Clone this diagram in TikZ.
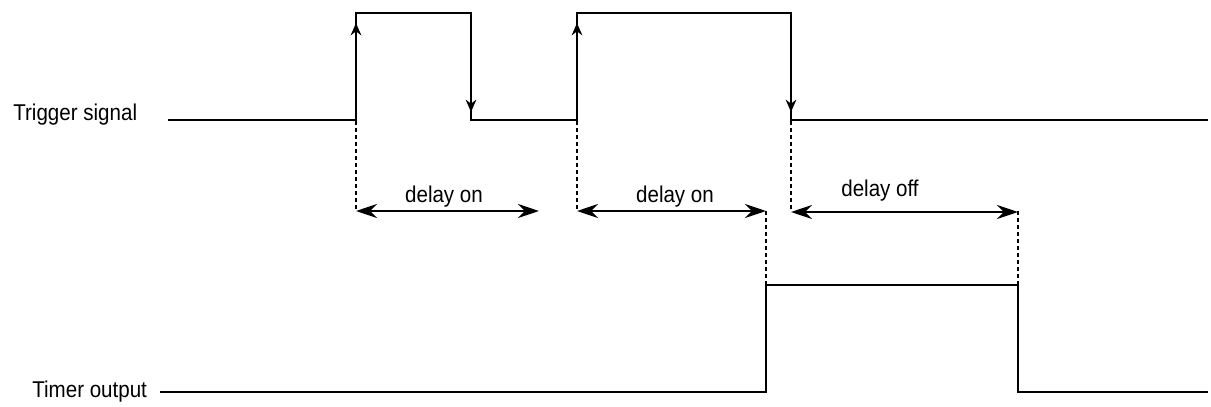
\documentclass[tikz,border=0pt]{standalone}
\usepackage{fontspec}
\usepackage{graphicx}
\setmainfont{Liberation Sans}
\usetikzlibrary{arrows.meta}

\newcommand{\narrowtext}[1]{\scalebox{0.9}[1]{#1}}

\begin{document}
\begin{tikzpicture}[x=0.02cm, y=-0.02cm, >=Stealth]
    \tikzstyle{wave} = [line width=1.2pt, line join=miter]
    \tikzstyle{edge} = [line width=1.2pt, -{Stealth[length=7pt, width=6pt]}]
    \tikzstyle{guide} = [line width=0.6pt, dash pattern=on 2pt off 2pt]
    \tikzstyle{span} = [line width=1.7pt, {Stealth[length=12pt, width=8pt]}-{Stealth[length=12pt, width=8pt]}]
    \tikzstyle{lbl} = [font=\fontsize{13}{15}\selectfont, inner sep=0pt, anchor=base]

    \useasboundingbox (0,0) rectangle (1211,406);

    % Time points
    \coordinate (t1) at (356,0);
    \coordinate (t2) at (471,0);
    \coordinate (t3) at (577,0);
    \coordinate (t4) at (791,0);
    \coordinate (t5) at (766,0);
    \coordinate (t6) at (1018,0);

    % Signal names
    \node (trig) [lbl, anchor=base west] at (13,120) {\narrowtext{Trigger signal}};
    \node (out) [lbl, anchor=base west] at (32,397) {\narrowtext{Timer output}};

    % Trigger waveform
    \draw[wave] (168,120) -- (t1 |- 0,120) -- (t1 |- 0,13) -- (t2 |- 0,13) -- (t2 |- 0,120)
        -- (t3 |- 0,120) -- (t3 |- 0,13) -- (t4 |- 0,13) -- (t4 |- 0,120) -- (1208,120);
    \draw[edge] (t1 |- 0,60) -- (t1 |- 0,23);
    \draw[edge] (t2 |- 0,60) -- (t2 |- 0,112);
    \draw[edge] (t3 |- 0,60) -- (t3 |- 0,23);
    \draw[edge] (t4 |- 0,60) -- (t4 |- 0,112);

    % Timer output waveform
    \draw[wave] (160,392) -- (t5 |- 0,392) -- (t5 |- 0,285) -- (t6 |- 0,285) -- (t6 |- 0,392) -- (1208,392);

    % Guide lines
    \draw[guide] (t1 |- 0,121) -- (t1 |- 0,211);
    \draw[guide] (t3 |- 0,121) -- (t3 |- 0,211);
    \draw[guide] (t4 |- 0,121) -- (t4 |- 0,211);
    \draw[guide] (t5 |- 0,211) -- (t5 |- 0,285);
    \draw[guide] (t6 |- 0,211) -- (t6 |- 0,285);

    % Delay spans
    \draw[span] (t1 |- 0,211) -- (539,211);
    \draw[span] (t3 |- 0,211) -- (t5 |- 0,211);
    \draw[span] (t4 |- 0,212) -- (t6 |- 0,212);
    \node (don1) [lbl] at (444,202) {\narrowtext{delay on}};
    \node (don2) [lbl] at (675,202) {\narrowtext{delay on}};
    \node (doff) [lbl] at (880,196) {\narrowtext{delay off}};
\end{tikzpicture}
\end{document}
